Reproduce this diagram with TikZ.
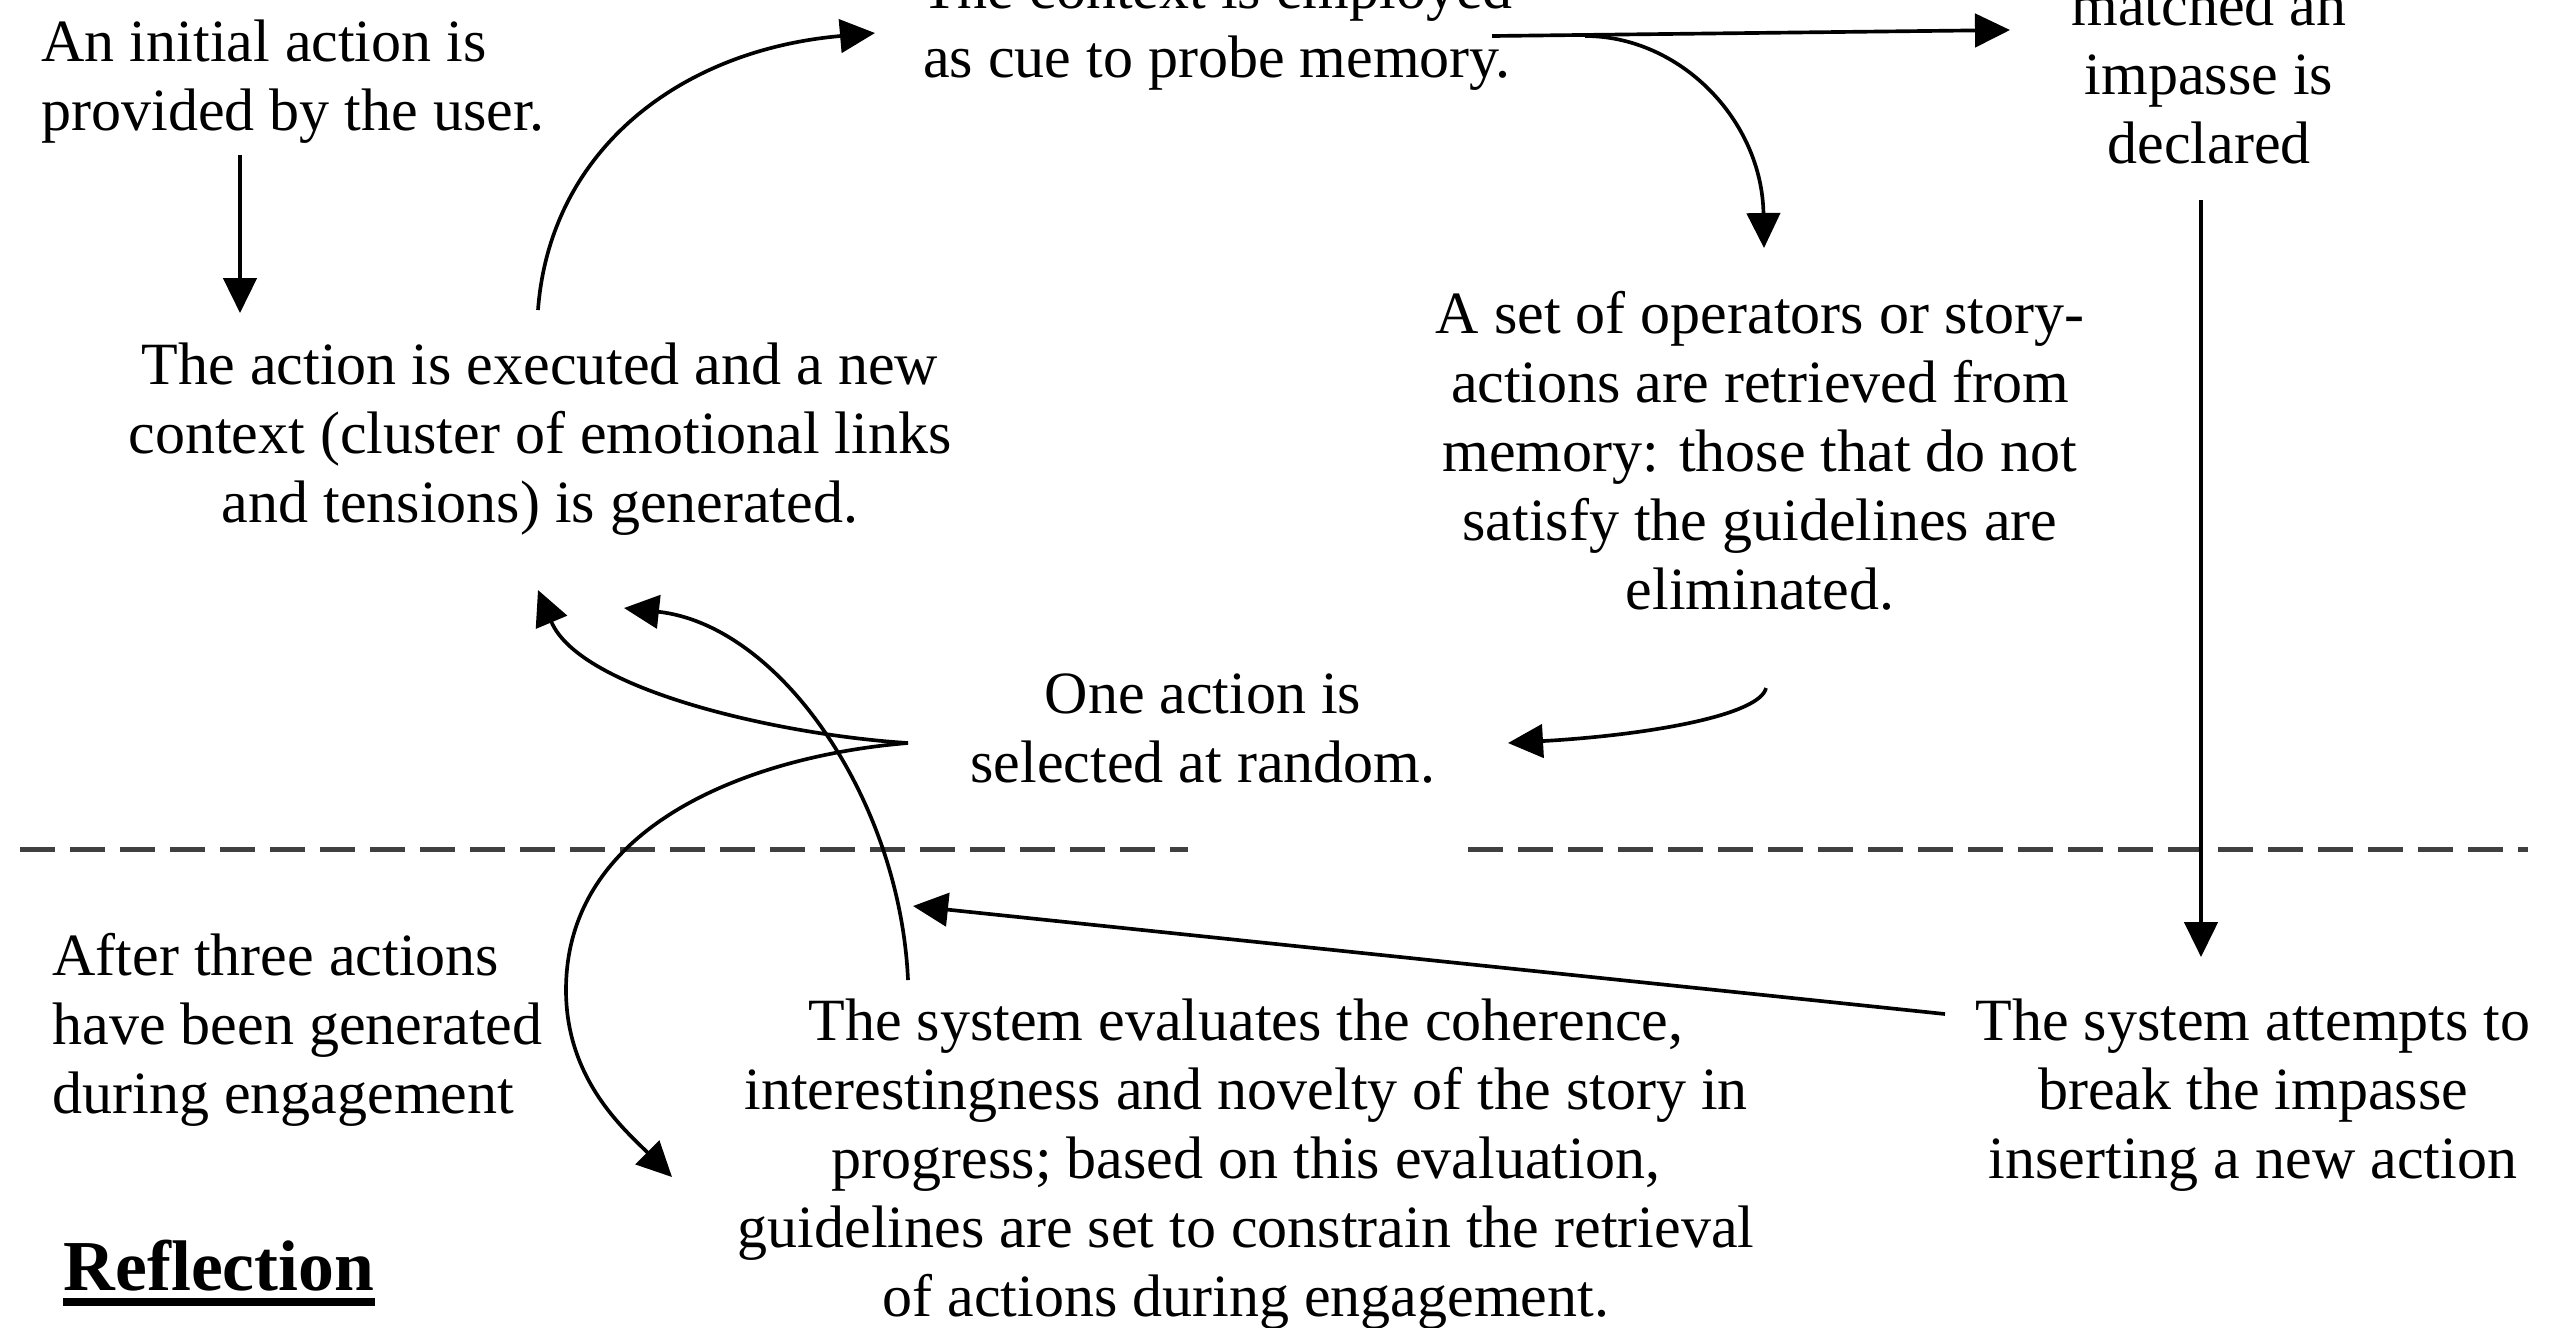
\documentclass[tikz,border=0pt]{standalone}
\usepackage{fontspec}
\setmainfont{Liberation Serif}
\usetikzlibrary{arrows.meta,calc}
\begin{document}
\begin{tikzpicture}[x=0.3pt,y=-0.3pt,
  txt/.style={inner sep=0pt, align=center, font=\fontsize{18}{20.7}\selectfont},
  ltxt/.style={txt, align=left},
  arr/.style={line width=1.1pt, -{Triangle[length=10.5pt,width=10pt]}},
  sepline/.style={line width=1.5pt, black!75, dash pattern=on 10.5pt off 4.5pt}]
\useasboundingbox (0,0) rectangle (2556,1327);
\clip (0,0) rectangle (2556,1327);

% text blocks (placed by the baseline of their last line)
\node[ltxt, anchor=base west] (init) at (41,130) {An initial action is\\provided by the user.};
\node[txt, anchor=base] (cue) at (1217,77) {The context is employed\\as cue to probe memory.};
\node[txt, anchor=base] (imp) at (2209,163) {matched an\\impasse is\\declared};
\node[txt, anchor=base] (ops) at (1760,609) {A set of operators or story-\\actions are retrieved from\\memory: those that do not\\satisfy the guidelines are\\eliminated.};
\node[txt, anchor=base] (exec) at (540,522) {The action is executed and a new\\context (cluster of emotional links\\and tensions) is generated.};
\node[txt, anchor=base] (sel) at (1203,782) {One action is\\selected at random.};
\node[ltxt, anchor=base west] (after) at (52,1113) {After three actions\\have been generated\\during engagement};
\node[txt, anchor=base] (eval) at (1246,1316) {The system evaluates the coherence,\\interestingness and novelty of the story in\\progress; based on this evaluation,\\guidelines are set to constrain the retrieval\\of actions during engagement.};
\node[txt, anchor=base] (brk) at (2253,1178) {The system attempts to\\break the impasse\\inserting a new action};
\node[inner sep=0pt, anchor=base west, font=\fontsize{21.5}{24}\selectfont\bfseries] (refl) at (63,1290) {Reflection};
\draw[line width=2.4pt] ($(refl.base west)+(0,12)$) -- ($(refl.base east)+(0,12)$);

% separator between engagement and reflection
\draw[sepline] (20,849) -- (1188,849);
\draw[sepline] (1468,849) -- (2528,849);

% connectors
\draw[arr] ($(init.base west)+(199,25)$) -- ($(exec.base)+(-300,-209)$);
\draw[arr] ($(exec.base)+(-2,-212)$) .. controls +(12,-160) and +(-195,17) .. ($(cue.base)+(-342,-44)$);
\draw[arr] ($(cue.base)+(275,-41)$) -- ($(imp.base)+(-199,-133)$);
\draw[arr] ($(cue.base)+(368,-41)$) .. controls +(95,0) and +(-2,-128) .. ($(ops.base)+(4,-361)$);
\draw[arr] ($(imp.base)+(-8,37)$) -- ($(brk.base)+(-52,-221)$);
\draw[arr] ($(ops.base)+(6,79)$) .. controls +(-6,27) and +(142,-8) .. ($(sel.base)+(305,-39)$);
\draw[arr] ($(sel.base)+(-295,-39)$) .. controls +(-128,-8) and +(42,100) .. ($(exec.base)+(-2,68)$);
\draw[arr] ($(sel.base)+(-295,-39)$) .. controls +(-148,12) and +(0,-170) .. ($(sel.base)+(-637,208)$)
  .. controls +(0,90) and +(-47,-47) .. ($(eval.base)+(-574,-139)$);
\draw[arr] ($(eval.base)+(-338,-336)$) .. controls +(-8,-180) and +(156,17) .. ($(exec.base)+(84,86)$);
\draw[arr] ($(brk.base)+(-308,-164)$) -- ($(eval.base)+(-333,-410)$);
\end{tikzpicture}
\end{document}
